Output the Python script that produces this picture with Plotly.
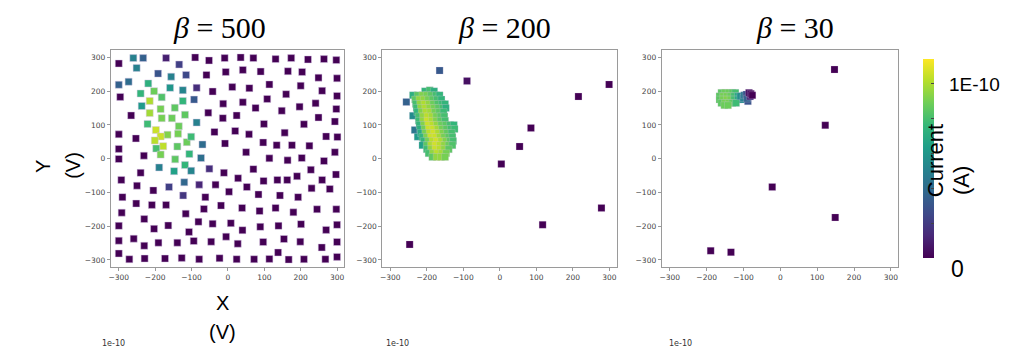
import plotly.graph_objects as go

W, H = 1013, 347

# ---------------- data (values in units of 1e-10 A) ----------------
p1_x = [-300,-260,-233,-170,-134,-90,-52,-9,35,70,131,174,220,264,298,
        -251,-192,-156,-115,-59,-6,41,90,165,204,249,300,
        -300,-273,-219,-203,-240,-159,-124,-86,-42,12,59,114,200,259,300,
        -296,-182,-215,-237,-185,-146,-124,-93,-54,-13,41,76,108,160,197,241,298,
        -266,-215,-182,-154,-118,-221,-135,-86,-14,24,148,249,294,99,209,
        -300,-253,-198,-166,-137,-185,-201,-178,-113,-101,-70,-37,-8,20,58,97,134,176,224,270,301,294,156,
        -300,-300,-231,-197,-185,-139,-106,-74,50,114,164,203,264,
        -189,-145,-148,-118,-101,-293,-240,-162,-120,-51,-11,28,70,98,136,163,190,228,259,297,
        -250,-205,-123,-79,-34,3,52,84,143,193,230,280,-290,-62,
        -252,-209,-170,-116,-66,-19,39,87,131,180,245,298,-292,-230,
        -300,-203,-164,-107,-81,-42,8,40,89,139,201,270,300,
        -300,-259,-230,-191,-139,-94,-46,-5,27,97,154,199,258,300,
        -300,-271,-229,-173,-127,-79,-23,24,72,114,138,167,209,268,300]
p1_y = [282,298,298,298,279,300,291,298,300,298,295,298,294,295,292,
        269,252,243,248,248,257,263,258,259,257,240,238,
        219,228,223,200,193,210,203,210,199,212,209,220,216,201,186,
        183,182,171,156,147,151,171,175,136,163,167,150,177,191,154,164,147,
        128,135,120,120,130,103,96,107,120,128,142,122,110,103,102,
        72,60,85,71,74,66,54,37,49,65,42,79,45,82,72,48,40,40,38,66,64,19,77,
        29,-1,9,30,12,36,14,2,19,1,-5,2,-7,
        -26,-2,-37,-19,-36,-63,-42,-84,-70,-30,-42,-58,-31,-66,-63,-63,-52,-33,-63,-47,
        -80,-94,-109,-77,-77,-98,-84,-106,-109,-114,-88,-90,-114,-114,
        -133,-137,-137,-163,-149,-139,-146,-155,-146,-159,-150,-150,-160,-179,
        -199,-208,-198,-217,-187,-193,-191,-212,-202,-199,-194,-211,-196,
        -243,-237,-258,-249,-249,-244,-246,-231,-252,-247,-238,-246,-263,-247,
        -281,-298,-296,-296,-294,-298,-295,-298,-298,-297,-278,-299,-298,-298,-291]
p1_v = [0,0.5,0.35,0.1,0.22,0,0,0,0,0,0,0,0,0,0,
        0.5,0.3,0.5,0.25,0,0,0,0,0,0,0,0,
        0.35,0.4,0.72,0.88,0.75,0.6,0.52,0.15,0,0,0,0,0,0,0,
        0,0.82,1.0,0.62,0.9,0.85,0.75,0.32,0,0,0,0,0,0,0,0,0,
        0,0.98,0.9,0.88,0.85,0.78,0.88,0.5,0,0,0,0,0,0,0,
        0,0,1.05,0.92,0.9,1.05,1.02,1.03,0.88,0.78,0.4,0,0,0,0,0,0,0,0,0,0,0,0,
        0,0,0,0.8,0.9,0.85,0.75,0.42,0,0,0,0,0,
        0.5,0.85,0.65,0.75,0.52,0,0,0.22,0.38,0.15,0,0,0,0,0,0,0,0,0,0,
        0,0,0.18,0.12,0,0,0,0,0,0,0,0,0,0,
        0,0,0,0,0,0,0,0,0,0,0,0,0,0,
        0,0,0,0,0,0,0,0,0,0,0,0,0,
        0,0,0,0,0,0,0,0,0,0,0,0,0,0,
        0,0,0,0,0,0,0,0,0,0,0,0,0,0,0]

p2_x = [-165,-90,299,215,85,54,4,117,278,-247,
        -256,-233,-238,-225,
        -205,-192,-180,
        -238,-225,-212,-200,-188,-175,-165,
        -232,-220,-208,-196,-184,-172,-160,
        -230,-218,-206,-194,-182,-170,-158,-150,
        -228,-216,-204,-192,-180,-168,-156,-148,
        -226,-214,-202,-190,-178,-166,-154,
        -222,-210,-198,-186,-174,-162,-152,
        -222,-210,-198,-186,-174,-162,-150,
        -220,-208,-196,-184,-172,-160,-148,-136,-126,
        -218,-206,-194,-182,-170,-158,-146,-134,-124,
        -216,-204,-192,-180,-168,-156,-144,-132,
        -212,-200,-188,-176,-164,-152,-140,-130,
        -208,-196,-184,-172,-160,-148,-136,-128,
        -212,-200,-188,-176,-164,-152,-140,-130,
        -200,-188,-176,-164,-152,-140,
        -195,-183,-171,-159,-147,
        -185,-173,-161,-150]
p2_y = [261,230,220,184,91,36,-16,-196,-146,-254,
        168,85,127,65,
        200,203,200,
        188,188,188,188,188,188,188,
        175,175,175,175,175,175,175,
        162,162,162,162,162,162,162,162,
        150,150,150,150,150,150,150,150,
        138,138,138,138,138,138,138,
        125,125,125,125,125,125,125,
        112,112,112,112,112,112,112,
        100,100,100,100,100,100,100,100,100,
        88,88,88,88,88,88,88,88,88,
        76,76,76,76,76,76,76,76,
        64,64,64,64,64,64,64,64,
        52,52,52,52,52,52,52,52,
        40,40,40,40,40,40,40,40,
        28,28,28,28,28,28,
        16,16,16,16,16,
        5,5,5,5]
p2_v = [0.32,0.05,0,0,0,0,0,0,0,0,
        0.35,0.45,0.55,0.62,
        0.75,0.8,0.72,
        0.72,0.85,0.92,0.9,0.85,0.8,0.75,
        0.85,0.95,0.95,0.9,0.85,0.8,0.75,
        0.8,0.95,1.0,0.95,0.88,0.82,0.78,0.75,
        0.78,0.95,1.0,0.95,0.9,0.85,0.8,0.72,
        0.75,0.92,1.0,0.98,0.9,0.85,0.78,
        0.8,0.95,1.02,0.98,0.9,0.85,0.8,
        0.78,0.95,1.05,1.0,0.92,0.85,0.8,
        0.75,0.92,1.05,1.02,0.95,0.88,0.85,0.8,0.75,
        0.72,0.9,1.05,1.05,0.98,0.9,0.85,0.8,0.78,
        0.7,0.9,1.02,1.06,1.0,0.92,0.86,0.8,
        0.75,0.92,1.05,1.05,0.98,0.9,0.85,0.8,
        0.75,0.9,1.02,1.06,1.0,0.92,0.85,0.8,
        0.65,0.85,1.0,1.06,1.02,0.95,0.88,0.82,
        0.78,0.95,1.05,1.02,0.95,0.85,
        0.8,0.95,1.02,0.98,0.9,
        0.85,0.95,0.95,0.9]

p3_x = [147,122,-22,149,-189,-134,
        -160,-150,-140,-130,-122,
        -165,-155,-145,-135,-125,-115,
        -165,-155,-145,-135,-125,-115,-105,
        -160,-150,-140,-130,-120,
        -152,-142,
        -108,-100,-98,-92,-88,-90,-82,-85,-80,-76]
p3_y = [264,99,-84,-174,-273,-277,
        195,195,195,195,195,
        185,185,185,185,185,185,
        175,175,175,175,175,175,175,
        165,165,165,165,165,
        158,158,
        185,180,188,190,170,178,184,195,192,188]
p3_v = [0,0,0,0,0,0,
        0.85,0.88,0.88,0.85,0.8,
        0.85,0.9,0.9,0.88,0.8,0.7,
        0.85,0.9,0.92,0.9,0.8,0.7,0.55,
        0.85,0.9,0.9,0.85,0.78,
        0.88,0.88,
        0.55,0.5,0.45,0.3,0.3,0.35,0.15,0.05,0.02,0.0]

titles = ["<i>β</i> = 500", "<i>β</i> = 200", "<i>β</i> = 30"]
tick_vals = [-300, -200, -100, 0, 100, 200, 300]
cmax = 1.14e-10

# ---------------- layout geometry (pixels) ----------------
panels_px = [(109, 343), (381, 616), (661, 898)]
top_px, bot_px = 50, 267

def px(x):
    return x / W

def py(y):
    return 1 - y / H

fig = go.Figure()
datasets = [(p1_x, p1_y, p1_v), (p2_x, p2_y, p2_v), (p3_x, p3_y, p3_v)]
for i, (xs, ys, vs) in enumerate(datasets):
    ax = "" if i == 0 else str(i + 1)
    fig.add_trace(go.Scatter(
        x=xs, y=ys, mode="markers",
        xaxis="x" + ax, yaxis="y" + ax,
        marker=dict(symbol="square", size=7,
                    color=[v * 1e-10 for v in vs], coloraxis="coloraxis",
                    line=dict(width=0.6 if i == 0 else 0.3,
                              color="rgba(215,200,230,0.8)")),
        showlegend=False, hoverinfo="skip"))

axis_common = dict(range=[-322, 320], tickvals=tick_vals, showgrid=False,
                   zeroline=False, showline=True, mirror=True,
                   linecolor="#9a9a9a", linewidth=1, ticks="outside",
                   ticklen=3, tickcolor="#9a9a9a",
                   tickfont=dict(family="DejaVu Sans", size=7.5, color="#444"))
layout = dict(width=W, height=H, margin=dict(l=0, r=0, t=0, b=0),
              paper_bgcolor="white", plot_bgcolor="white")
for i, (l, r) in enumerate(panels_px):
    ax = "" if i == 0 else str(i + 1)
    layout["xaxis" + ax] = dict(axis_common, domain=[px(l), px(r)],
                                anchor="y" + ax)
    layout["yaxis" + ax] = dict(axis_common, range=[-321, 322],
                                domain=[py(bot_px), py(top_px)],
                                anchor="x" + ax)

layout["coloraxis"] = dict(
    colorscale="Viridis", cmin=0, cmax=cmax,
    colorbar=dict(x=px(913), xanchor="left", thickness=11,
                  y=py(158.5), yanchor="middle", len=219 / H,
                  lenmode="fraction", outlinewidth=0,
                  tickvals=[0, 2e-11, 4e-11, 6e-11, 8e-11, 1e-10],
                  ticks="inside", ticklen=3, tickcolor="#444",
                  showticklabels=False))
fig.update_layout(**layout)

P = dict(xref="paper", yref="paper", showarrow=False,
         xanchor="center", yanchor="middle")
ann = []
title_cx = [218, 503, 795]
for t, cx in zip(titles, title_cx):
    ann.append(dict(P, text=t, x=px(cx), y=py(28),
                    font=dict(family="Liberation Serif", size=30, color="black")))
big = dict(family="Liberation Sans", color="black")
ann += [
    dict(P, text="X", x=px(221), y=py(303), font=dict(big, size=20)),
    dict(P, text="(V)", x=px(221), y=py(332), font=dict(big, size=20)),
    dict(P, text="Y", x=px(41), y=py(166), textangle=-90, font=dict(big, size=20)),
    dict(P, text="(V)", x=px(71), y=py(165), textangle=-90, font=dict(big, size=20)),
    dict(P, text="Current", x=px(936), y=py(161), textangle=-90, font=dict(big, size=22)),
    dict(P, text="(A)", x=px(961), y=py(181), textangle=-90, font=dict(big, size=22)),
    dict(P, text="1E-10", x=px(974), y=py(85), font=dict(big, size=19)),
    dict(P, text="0", x=px(957), y=py(269), font=dict(big, size=23)),
]
for cx in [112, 396, 680]:
    ann.append(dict(P, text="1e-10", x=px(cx), y=py(337), yanchor="top",
                    font=dict(family="DejaVu Sans", size=8, color="#333")))
fig.update_layout(annotations=ann)

fig.write_html("out.html")
